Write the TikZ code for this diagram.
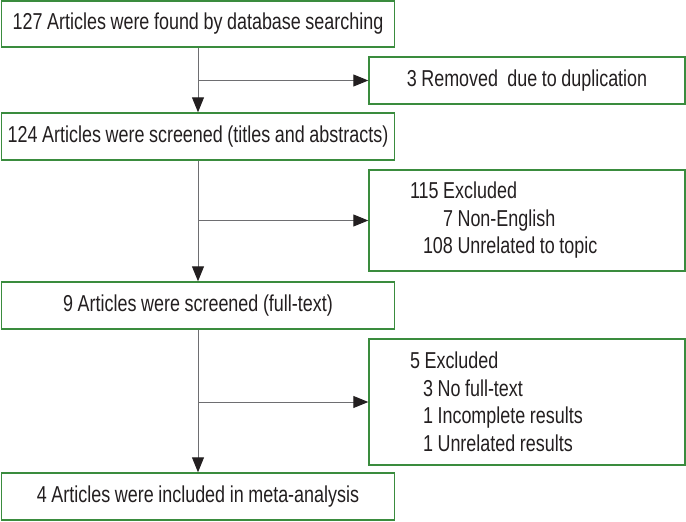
\documentclass[tikz,border=0pt]{standalone}
\usepackage{fontspec}
\setmainfont{Liberation Sans}[FakeStretch=0.78]
\usetikzlibrary{arrows.meta}
\definecolor{boxgreen}{RGB}{58,140,62}
\definecolor{linegray}{RGB}{110,110,113}
\definecolor{inkblack}{RGB}{35,31,32}
\newcommand{\flowfont}{\fontsize{23}{27.5}\selectfont\spaceskip 4.6pt\relax}

\begin{document}
\begin{tikzpicture}[x=1pt, y=-1pt,
    >={Triangle[length=15pt,width=12pt,color=inkblack]},
    mainbox/.style={draw=boxgreen, line width=1.4pt, fill=white, minimum width=393pt,
        minimum height=46pt, inner sep=0pt, text=inkblack, font=\flowfont},
    sidebox/.style={mainbox, minimum width=316pt, text width=234pt, inner xsep=41pt, align=flush left},
    flow/.style={->, draw=linegray, line width=1pt}]
    \useasboundingbox (0,0) rectangle (686,522);

    % main column
    \node[mainbox] (found) at (198,24) {127 Articles were found by database searching};
    \node[mainbox, minimum height=47pt] (screen1) at (198,136.5) {124 Articles were screened (titles and abstracts)};
    \node[mainbox, minimum height=47pt] (screen2) at (198,305.5) {9 Articles were screened (full-text)};
    \node[mainbox, minimum height=47pt] (incl) at (198,496.5) {4 Articles were included in meta-analysis};

    % side boxes
    \node[sidebox, text width=290pt, inner xsep=13pt, align=flush center, minimum height=47pt] (removed) at (527,80.5)
        {3 Removed\ \ due to duplication};
    \node[sidebox, minimum height=101pt] (excl1) at (527,220.5)
        {115 Excluded\\ \hspace*{33pt}7 Non-English\\ \hspace*{13pt}108 Unrelated to topic};
    \node[sidebox, minimum height=126pt] (excl2) at (527,402)
        {5 Excluded\\ \hspace*{13pt}3 No full-text\\ \hspace*{13pt}1 Incomplete results\\ \hspace*{13pt}1 Unrelated results};

    % downward arrows
    \draw[flow] (found) -- (screen1);
    \draw[flow] (screen1) -- (screen2);
    \draw[flow] (screen2) -- (incl);

    % branches to the right
    \draw[flow] (found |- removed.west) -- (removed);
    \draw[flow] (found |- excl1.west) -- (excl1);
    \draw[flow] (found |- excl2.west) -- (excl2);
\end{tikzpicture}
\end{document}
